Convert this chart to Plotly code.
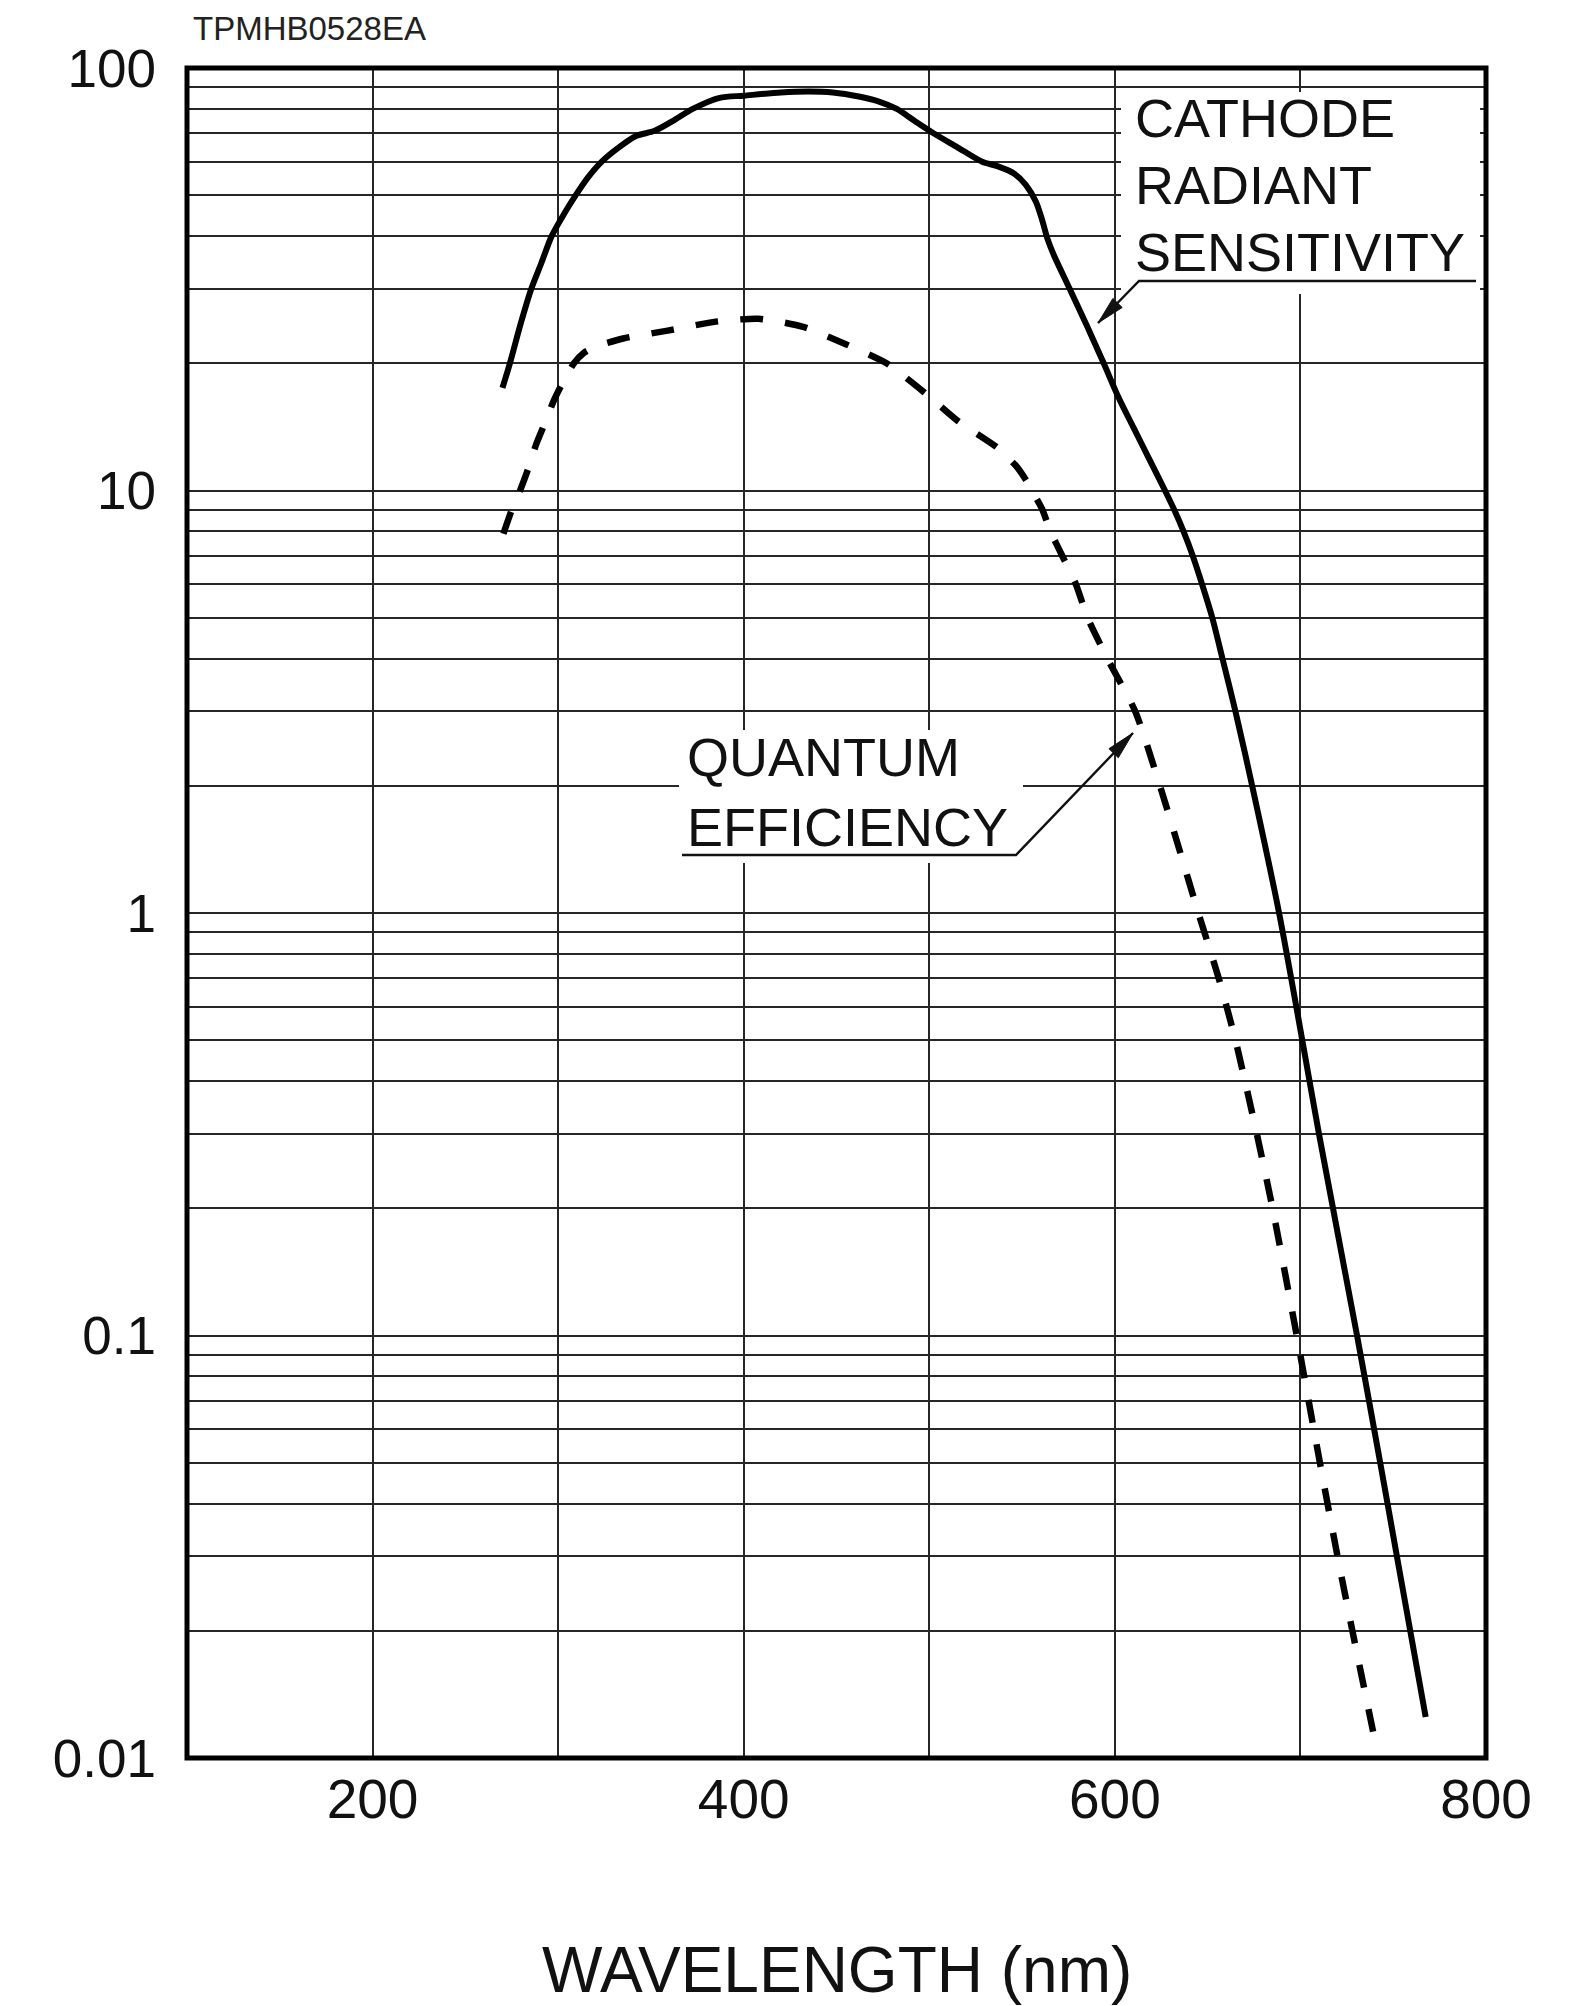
import plotly.graph_objects as go

# Photocathode spectral response (log scale)
wavelength_sens = [270, 274, 280, 285.5, 291, 296.5, 303, 309.5, 316, 323.5, 332, 342, 352,
                   363, 372.5, 387, 400, 420, 435, 448, 462, 472.5, 482.5, 492, 502.5, 515,
                   528.5, 537, 545.6, 552, 557.4, 560.6, 563.8, 567.1, 575.7, 585, 594,
                   602, 610, 618, 627, 632, 637, 642, 647, 652.5, 658, 665, 674, 688.5,
                   701, 710, 730.5, 743, 752, 767.5]
cathode_sensitivity = [17.5, 20, 25, 30, 34.6, 40, 45, 50, 55, 60, 64.5, 69, 71,
                       75.5, 80, 85, 86, 87.5, 88, 87.5, 85.6, 83.4, 80, 75, 70, 65,
                       60, 58.5, 56.3, 52.9, 48.3, 44, 39.3, 36.1, 30, 24.5, 20,
                       16.6, 14.1, 12, 10, 9, 8, 7, 6, 5, 4, 3, 2, 1,
                       0.5, 0.3, 0.1, 0.05, 0.03, 0.0125]

wavelength_qe = [270.5, 275, 279.5, 284, 288, 293, 297.6, 303, 308.5, 314, 320, 335, 359,
                 385, 408, 432, 455, 477, 498.5, 515.5, 537, 547, 552, 555.3, 561, 565.3,
                 571.7, 579, 585.3, 596, 611, 624.3, 634, 645, 656, 665, 676.5, 685, 698,
                 710.5, 720, 728, 741.5]
quantum_efficiency = [7.9, 9, 10, 11.3, 12.8, 14.5, 16.3, 18.2, 20, 21.2, 21.9, 22.9, 23.9,
                      25.1, 25.5, 24.4, 22.2, 20.0, 16.9, 14.6, 12.6, 11.4, 10.6, 10, 9, 8,
                      7, 6, 5, 4, 3, 2, 1.45, 1, 0.7, 0.5, 0.3, 0.2, 0.1,
                      0.05, 0.03, 0.02, 0.0103]

x_tick_values = [200, 400, 600, 800]
x_tick_labels = ["200", "400", "600", "800"]
y_tick_values = [0.01, 0.1, 1, 10, 100]
y_tick_labels = ["0.01", "0.1", "1", "10", "100"]

W, H = 1593, 2006
L, R, T, B = 187, 1486, 68, 1758
FONT = "Liberation Sans, Arial, sans-serif"
INK = "#111111"
GRID = "#262626"


def px(xp):
    return (xp - L) / (R - L)


def py(yp):
    return (B - yp) / (B - T)


fig = go.Figure()
fig.add_trace(go.Scatter(
    x=wavelength_sens, y=cathode_sensitivity, mode="lines",
    line=dict(color="black", width=6, shape="spline", smoothing=0.8),
    hoverinfo="skip", showlegend=False))
fig.add_trace(go.Scatter(
    x=wavelength_qe, y=quantum_efficiency, mode="lines",
    line=dict(color="black", width=6.5, dash="23px,22px", shape="spline", smoothing=0.6),
    hoverinfo="skip", showlegend=False))

minor_y = [m * 10.0 ** e for e in range(-2, 2) for m in range(2, 10)]

fig.update_xaxes(
    range=[100, 800], tickmode="array", tickvals=x_tick_values, ticktext=x_tick_labels,
    showgrid=True, gridcolor=GRID, gridwidth=2, zeroline=False, showline=False,
    ticks="", ticklabelstandoff=4,
    tickfont=dict(family=FONT, size=55, color=INK),
    minor=dict(tick0=0, dtick=100, showgrid=True, gridcolor=GRID, gridwidth=2, ticks=""),
)
fig.update_yaxes(
    type="log", range=[-2, 2], tickmode="array", tickvals=y_tick_values, ticktext=y_tick_labels,
    showgrid=True, gridcolor=GRID, gridwidth=2, zeroline=False, showline=False,
    ticks="", ticklabelstandoff=30,
    tickfont=dict(family=FONT, size=53, color=INK),
    minor=dict(tickvals=minor_y, showgrid=True, gridcolor=GRID, gridwidth=2, ticks=""),
)

shapes = []
# white panels behind the two callouts
for x0, x1, y0, y1 in [(1121, 1480, 92, 294), (679, 1023, 730, 863)]:
    shapes.append(dict(type="rect", xref="paper", yref="paper",
                       x0=px(x0), x1=px(x1), y0=py(y1), y1=py(y0),
                       fillcolor="white", line=dict(width=0), layer="above"))


def leader(points, tip, head_len=28, head_half=6.5):
    pts = points + [tip]
    path = "M " + " L ".join(f"{px(a):.5f},{py(b):.5f}" for a, b in pts)
    shapes.append(dict(type="path", xref="paper", yref="paper", path=path,
                       line=dict(color=INK, width=2.4), layer="above"))
    (sx, sy), (tx, ty) = pts[-2], tip
    d = ((tx - sx) ** 2 + (ty - sy) ** 2) ** 0.5
    ux, uy = (tx - sx) / d, (ty - sy) / d
    bx, by = tx - head_len * ux, ty - head_len * uy
    nx, ny = -uy, ux
    tri = [(tx, ty), (bx + head_half * nx, by + head_half * ny), (bx - head_half * nx, by - head_half * ny)]
    tpath = "M " + " L ".join(f"{px(a):.5f},{py(b):.5f}" for a, b in tri) + " Z"
    shapes.append(dict(type="path", xref="paper", yref="paper", path=tpath,
                       fillcolor=INK, line=dict(color=INK, width=1), layer="above"))


leader([(1476, 281), (1139, 281)], (1098, 323))
leader([(682, 855), (1016, 855)], (1133, 733))

# plot frame
shapes.append(dict(type="rect", xref="paper", yref="paper", x0=0, x1=1, y0=0, y1=1,
                   line=dict(color="black", width=5), layer="above"))

annotations = []
for text, yc in [("CATHODE", 118), ("RADIANT", 185), ("SENSITIVITY", 252)]:
    annotations.append(dict(text=text, xref="paper", yref="paper", x=px(1133), y=py(yc),
                            xanchor="left", yanchor="middle", showarrow=False,
                            font=dict(family=FONT, size=54, color=INK)))
for text, yc in [("QUANTUM", 757), ("EFFICIENCY", 827)]:
    annotations.append(dict(text=text, xref="paper", yref="paper", x=px(685), y=py(yc),
                            xanchor="left", yanchor="middle", showarrow=False,
                            font=dict(family=FONT, size=54, color=INK)))
annotations.append(dict(text="WAVELENGTH (nm)", xref="paper", yref="paper", x=0.5, y=py(1970),
                        xanchor="center", yanchor="middle", showarrow=False,
                        font=dict(family=FONT, size=64, color=INK)))
annotations.append(dict(text="TPMHB0528EA", xref="paper", yref="paper", x=px(191), y=py(28),
                        xanchor="left", yanchor="middle", showarrow=False,
                        font=dict(family=FONT, size=33, color="#222222")))

fig.update_layout(
    template="none", width=W, height=H,
    margin=dict(l=L, r=W - R, t=T, b=H - B, pad=0, autoexpand=False),
    paper_bgcolor="white", plot_bgcolor="white",
    font=dict(family=FONT, color=INK),
    shapes=shapes, annotations=annotations, showlegend=False,
)

fig.write_html("out.html", config={"displayModeBar": False})
